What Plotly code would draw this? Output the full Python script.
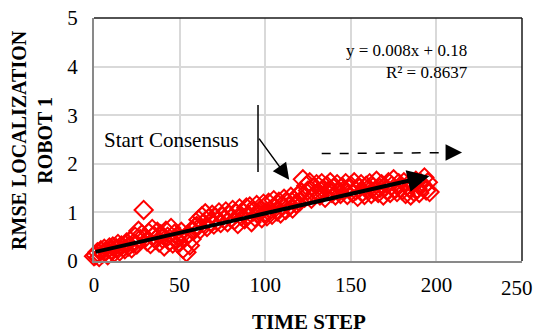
import plotly.graph_objects as go

time_step = list(range(0, 197))
rmse = [
    0.10, 0.12, 0.18, 0.08, 0.22, 0.15, 0.25, 0.20, 0.12, 0.28,
    0.22, 0.30, 0.18, 0.26, 0.35, 0.20, 0.32, 0.28, 0.24, 0.38,
    0.30, 0.42, 0.26, 0.36, 0.50, 0.34, 0.62, 0.45, 0.55, 1.05,
    0.48, 0.40, 0.58, 0.35, 0.66, 0.52, 0.44, 0.60, 0.38, 0.55,
    0.46, 0.30, 0.62, 0.50, 0.40, 0.68, 0.36, 0.56, 0.45, 0.52,
    0.38, 0.60, 0.25, 0.48, 0.18, 0.55, 0.32, 0.45, 0.62, 0.70,
    0.72, 0.85, 0.65, 0.92, 0.78, 0.98, 0.70, 0.88, 0.80, 0.95,
    0.75, 0.90, 0.82, 1.00, 0.78, 0.92, 0.86, 1.02, 0.80, 0.95,
    0.88, 1.05, 0.84, 0.98, 0.76, 1.08, 0.92, 1.00, 0.86, 1.10,
    0.95, 1.12, 0.80, 1.02, 0.90, 1.15, 0.98, 1.05, 0.88, 1.18,
    1.00, 0.92, 1.20, 1.05, 0.95, 1.25, 1.10, 1.02, 1.22, 0.98,
    1.15, 1.28, 1.05, 1.20, 1.12, 1.32, 1.08, 1.25, 1.18, 1.35,
    1.22, 1.40, 1.68, 1.30, 1.55, 1.45, 1.62, 1.28, 1.50, 1.38,
    1.58, 1.42, 1.35, 1.60, 1.48, 1.30, 1.55, 1.45, 1.62, 1.40,
    1.50, 1.35, 1.58, 1.44, 1.38, 1.52, 1.46, 1.60, 1.36, 1.48,
    1.55, 1.40, 1.62, 1.45, 1.32, 1.50, 1.58, 1.42, 1.36, 1.55,
    1.48, 1.60, 1.38, 1.52, 1.44, 1.65, 1.40, 1.50, 1.58, 1.35,
    1.52, 1.45, 1.62, 1.40, 1.55, 1.68, 1.48, 1.42, 1.60, 1.50,
    1.45, 1.62, 1.38, 1.55, 1.50, 1.35, 1.58, 1.42, 1.65, 1.48,
    1.40, 1.60, 1.52, 1.72, 1.45, 1.62, 1.42,
]
trend_slope = 0.008
trend_intercept = 0.18
trend_x = [0, 196]
x_ticks = [0, 50, 100, 150, 200, 250]
x_tick_labels = ["0", "50", "100", "150", "200", "250"]
y_ticks = [0, 1, 2, 3, 4, 5]

FONT = "Liberation Serif, Times New Roman, serif"

fig = go.Figure()
fig.add_trace(go.Scatter(
    x=time_step, y=rmse, mode="markers",
    marker=dict(symbol="diamond-open", size=14, color="#ff0000",
                line=dict(width=2, color="#ff0000")),
    showlegend=False, cliponaxis=False,
))

ty = [trend_slope * v + trend_intercept for v in trend_x]
# trend line arrow
fig.add_annotation(x=trend_x[1], y=ty[1], ax=trend_x[0], ay=ty[0],
                   xref="x", yref="y", axref="x", ayref="y",
                   showarrow=True, arrowhead=2, arrowsize=1.1, arrowwidth=4,
                   arrowcolor="black", text="")

# Start consensus marker
fig.add_shape(type="line", x0=95.8, x1=95.8, y0=3.21, y1=1.83,
              line=dict(color="black", width=1.5))
fig.add_annotation(x=114, y=1.67, ax=95.8, ay=2.55,
                   xref="x", yref="y", axref="x", ayref="y",
                   showarrow=True, arrowhead=2, arrowsize=2.2, arrowwidth=1.5,
                   arrowcolor="black", text="")
fig.add_annotation(x=45, y=2.49, text="Start Consensus", showarrow=False,
                   font=dict(family=FONT, size=21, color="black"))

# dashed arrow
fig.add_shape(type="line", x0=133, x1=207, y0=2.21, y1=2.23,
              line=dict(color="black", width=1.5, dash="dash"))
fig.add_annotation(x=215, y=2.23, ax=205, ay=2.23,
                   xref="x", yref="y", axref="x", ayref="y",
                   showarrow=True, arrowhead=2, arrowsize=2.2, arrowwidth=1.5,
                   arrowcolor="black", text="")

# equation
fig.add_annotation(x=219.6, y=4.1, xanchor="right", align="right",
                   text="y = 0.008x + 0.18<br>R² = 0.8637", showarrow=False,
                   font=dict(family=FONT, size=17, color="black"))

# axis titles
fig.add_annotation(xref="paper", yref="paper", x=-0.145, y=0.498,
                   xanchor="center", yanchor="middle",
                   text="<b>RMSE LOCALIZATION<br>ROBOT 1</b>", textangle=-90,
                   showarrow=False, font=dict(family=FONT, size=20, color="black"))
fig.add_annotation(xref="paper", yref="paper", x=0.502, y=-0.251,
                   xanchor="center", yanchor="middle",
                   text="<b>TIME STEP</b>",
                   showarrow=False, font=dict(family=FONT, size=21, color="black"))

# last x tick label sits shifted inward (as in the reference)
fig.add_annotation(xref="x", yref="paper", x=x_ticks[-1], y=0, yanchor="middle",
                   xanchor="center", xshift=-5, yshift=-27,
                   text=x_tick_labels[-1], showarrow=False,
                   font=dict(family=FONT, size=21, color="black"))

# dark frame on top and right of the plot area
fig.add_shape(type="line", xref="paper", yref="paper", x0=0, x1=1, y0=1, y1=1,
              line=dict(color="#1a1a1a", width=1.5))
fig.add_shape(type="line", xref="paper", yref="paper", x0=1, x1=1, y0=0, y1=1,
              line=dict(color="#1a1a1a", width=1.5))

fig.update_layout(
    width=543, height=336,
    margin=dict(l=94, r=21, t=18, b=75),
    paper_bgcolor="white", plot_bgcolor="white",
    font=dict(family=FONT, size=21, color="black"),
    xaxis=dict(range=[0, 250], tickvals=x_ticks,
               ticktext=x_tick_labels[:-1] + [""], showgrid=True,
               gridcolor="#d9d9d9", gridwidth=1.5, zeroline=False,
               showline=True, linecolor="#898989", linewidth=2,
               ticks="", automargin=False, ticklabelstandoff=4,
               ticklabeloverflow="allow"),
    yaxis=dict(range=[0, 5], tickvals=y_ticks, showgrid=True,
               gridcolor="#d9d9d9", gridwidth=1.5, zeroline=False,
               showline=True, linecolor="#898989", linewidth=2,
               ticks="", automargin=False, ticklabelstandoff=10,
               ticklabeloverflow="allow"),
)

fig.write_html(
    "out.html",
    config={"displayModeBar": False},
    post_script="document.body.style.margin='0';document.body.style.overflow='hidden';",
)
